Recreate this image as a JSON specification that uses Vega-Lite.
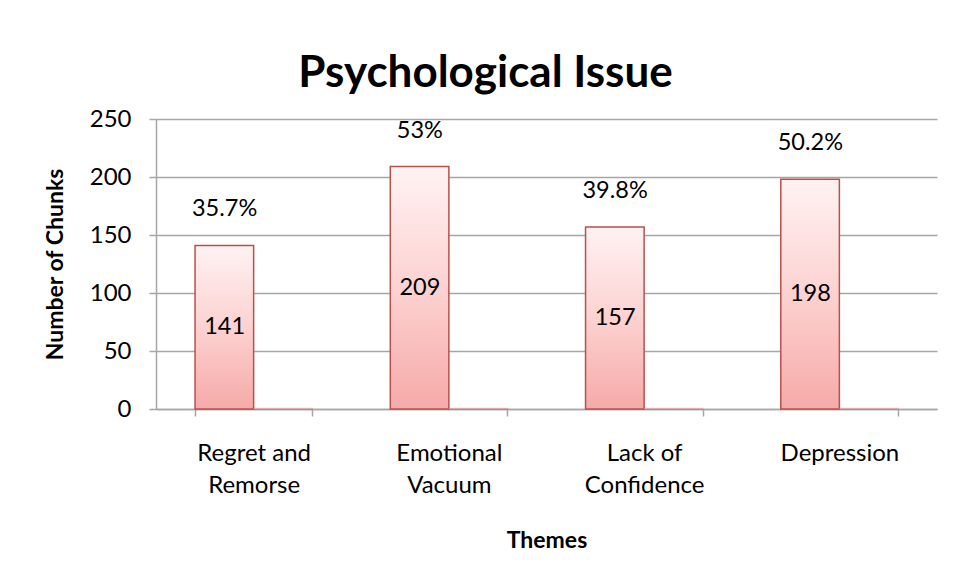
{
  "$schema": "https://vega.github.io/schema/vega-lite/v6.json",
  "width": 781,
  "height": 290,
  "autosize": "none",
  "padding": {"left": 156, "top": 119, "right": 18, "bottom": 171},
  "background": "white",
  "title": {
    "text": "Psychological Issue",
    "font": "Lato",
    "fontSize": 44,
    "fontWeight": "bold",
    "color": "black",
    "anchor": "middle",
    "dx": -61,
    "offset": 11
  },
  "config": {
    "view": {"stroke": null},
    "font": "Lato",
    "axis": {
      "labelFont": "Lato",
      "labelFontSize": 24,
      "labelColor": "black",
      "titleFont": "Lato",
      "titleFontSize": 23,
      "titleFontWeight": "bold",
      "titleColor": "black",
      "domainColor": "#a6a6a6",
      "tickColor": "#a6a6a6",
      "gridColor": "#a6a6a6",
      "domainWidth": 1.5,
      "tickWidth": 1.5,
      "gridWidth": 1.5
    }
  },
  "data": {
    "values": [
      {"theme": "Regret and Remorse", "chunks": 141, "share": 0.357},
      {"theme": "Emotional Vacuum", "chunks": 209, "share": 0.53},
      {"theme": "Lack of Confidence", "chunks": 157, "share": 0.398},
      {"theme": "Depression", "chunks": 198, "share": 0.502}
    ]
  },
  "encoding": {
    "x": {
      "field": "theme",
      "type": "nominal",
      "sort": null,
      "title": "Themes",
      "scale": {"paddingInner": 0.4, "paddingOuter": 0.2},
      "axis": {
        "labelAngle": 0,
        "tickBand": "extent",
        "tickSize": 7,
        "labelPadding": 25,
        "labelLineHeight": 32,
        "titlePadding": 32,
        "labelExpr": "datum.label == 'Regret and Remorse' ? ['Regret and', 'Remorse'] : datum.label == 'Emotional Vacuum' ? ['Emotional', 'Vacuum'] : datum.label == 'Lack of Confidence' ? ['Lack of', 'Confidence'] : datum.label"
      }
    }
  },
  "resolve": {"scale": {"y": "shared"}},
  "layer": [
    {
      "transform": [{"fold": ["chunks", "share"], "as": ["series", "value"]}],
      "mark": {
        "type": "bar",
        "fill": {
          "gradient": "linear",
          "x1": 0, "y1": 0, "x2": 0, "y2": 1,
          "stops": [
            {"offset": 0, "color": "#fff2f2"},
            {"offset": 0.5, "color": "#fcd2d1"},
            {"offset": 1, "color": "#f6aaa8"}
          ]
        },
        "stroke": "#b9504c",
        "strokeWidth": 1.5
      },
      "encoding": {
        "xOffset": {"field": "series", "type": "nominal", "scale": {"domain": ["chunks", "share"], "paddingInner": 0, "paddingOuter": 0}},
        "y": {
          "field": "value",
          "type": "quantitative",
          "title": "Number of Chunks",
          "scale": {"domain": [0, 250], "nice": false},
          "axis": {
            "values": [0, 50, 100, 150, 200, 250],
            "tickSize": 7,
            "labelPadding": 18,
            "titlePadding": 22,
            "grid": true
          }
        },
        "strokeOpacity": {"condition": {"test": "datum.series == 'share'", "value": 0.35}, "value": 1}
      }
    },
    {
      "transform": [{"calculate": "datum.chunks / 2", "as": "mid"}],
      "mark": {"type": "text", "font": "Lato", "fontSize": 23.5, "color": "black", "dx": -29, "baseline": "middle"},
      "encoding": {
        "y": {"field": "mid", "type": "quantitative", "scale": {"domain": [0, 250], "nice": false}},
        "text": {"field": "chunks", "type": "quantitative"}
      }
    },
    {
      "mark": {"type": "text", "font": "Lato", "fontSize": 23.5, "color": "black", "dx": -29, "dy": -36, "baseline": "middle"},
      "encoding": {
        "y": {"field": "chunks", "type": "quantitative", "scale": {"domain": [0, 250], "nice": false}},
        "text": {"field": "share", "type": "quantitative", "format": ".3~%"}
      }
    }
  ]
}
